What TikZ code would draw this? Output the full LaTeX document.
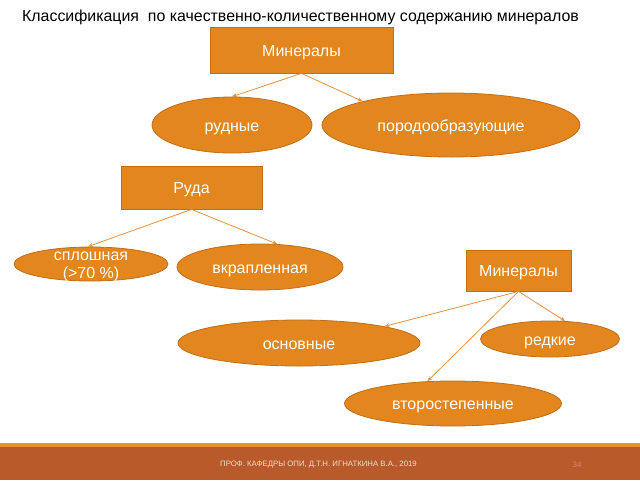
\documentclass[tikz,border=0pt]{standalone}
\usepackage{fontspec}
\setmainfont{Liberation Sans}
\usetikzlibrary{shapes.geometric,arrows.meta}
\definecolor{nodefill}{HTML}{E3861D}
\definecolor{nodeline}{HTML}{C06E1A}
\definecolor{arrowcol}{HTML}{E8913A}
\definecolor{bandcol}{HTML}{B95A2B}
\definecolor{bandline}{HTML}{E8932A}
\definecolor{foottext}{HTML}{F2DCCB}
\definecolor{pagecol}{HTML}{D8896A}
\tikzset{
  box/.style={draw=nodeline, line width=0.8pt, fill=nodefill, text=white, font=\fontsize{16}{18}\selectfont, inner sep=0pt, anchor=center, text height=12pt, text depth=0pt},
  oval/.style={ellipse, draw=nodeline, line width=0.8pt, fill=nodefill, text=white, font=\fontsize{16}{18}\selectfont, inner sep=0pt, align=center, text height=12pt, text depth=0pt},
  conn/.style={draw=arrowcol, line width=0.8pt, -{Stealth[length=5pt,width=4pt]}},
}
\begin{document}
\begin{tikzpicture}[x=1pt,y=-1pt]
\useasboundingbox (0,0) rectangle (640,480);
% title
\node[anchor=west, font=\fontsize{15.9}{17}\selectfont, inner sep=0pt] (title) at (22,17) {Классификация \ по качественно-количественному содержанию минералов};
% top group
\node[box, minimum width=183pt, minimum height=46pt] (m1) at (301.5,50) {Минералы};
\node[oval, minimum width=160pt, minimum height=56pt] (rud) at (232,125) {рудные};
\node[oval, minimum width=258pt, minimum height=64pt] (por) at (451,125) {породообразующие};
\draw[conn] (m1.south) -- (rud.north);
\draw[conn] (m1.south) -- (por.165);
% ore group
\node[box, minimum width=141pt, minimum height=43pt] (ruda) at (191.5,187.5) {Руда};
\node[oval, minimum width=154pt, minimum height=34pt, text height=0pt, text depth=0pt] (spl) at (91,264) {\raisebox{-14pt}[0pt][0pt]{\begin{tabular}[b]{@{}c@{}}сплошная\\(>70 \%)\end{tabular}}};
\node[oval, minimum width=166pt, minimum height=46pt] (vkr) at (260,267) {вкрапленная};
\draw[conn] (ruda.south) -- (spl.100);
\draw[conn] (ruda.south) -- (vkr.53);
% minerals group 2
\node[box, minimum width=105pt, minimum height=41pt] (m2) at (518.5,270.5) {Минералы};
\node[oval, minimum width=242pt, minimum height=46pt] (osn) at (299,343) {основные};
\node[oval, minimum width=139pt, minimum height=36pt] (red) at (550,339) {редкие};
\node[oval, minimum width=217pt, minimum height=45pt] (vto) at (453,403.5) {второстепенные};
\draw[conn] (m2.south) -- (osn.11);
\draw[conn] (m2.south) -- (vto.139);
\draw[conn] (m2.south) -- (red.50);
% footer
\fill[bandline] (0,442.5) rectangle (640,447);
\fill[bandcol] (0,447) rectangle (640,480);
\node[text=foottext, font=\fontsize{7.8}{8}\selectfont, inner sep=0pt] (foot) at (318.5,465) {ПРОФ. КАФЕДРЫ ОПИ, Д.Т.Н. ИГНАТКИНА В.А., 2019};
\node[text=pagecol, font=\fontsize{8}{9}\selectfont, inner sep=0pt] (page) at (577,465) {34};
\end{tikzpicture}
\end{document}
